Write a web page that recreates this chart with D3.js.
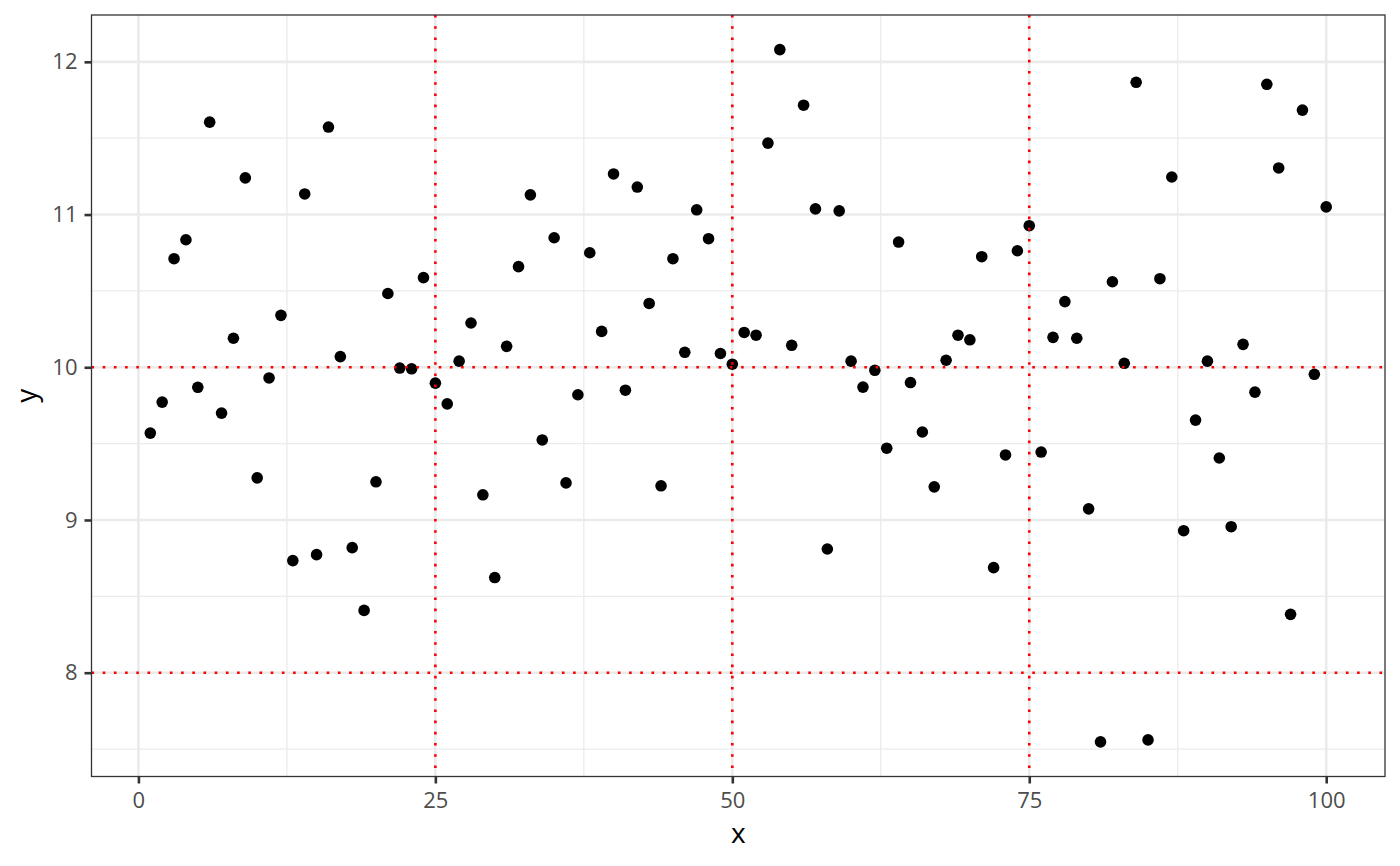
<!DOCTYPE html>
<html><head><meta charset="utf-8">
<script src="https://cdn.jsdelivr.net/npm/d3@7"></script>
<style>body{margin:0;background:#fff;}svg{display:block;font-family:"Open Sans","Noto Sans",sans-serif;}</style>
</head><body><svg id="c" width="1400" height="866"></svg>
<script>
const xs = d3.range(1, 101);
const ys = [9.569,9.772,10.711,10.835,9.869,11.605,9.70,10.19,11.24,9.276,
9.93,10.34,8.734,11.135,8.773,11.573,10.07,8.819,8.408,9.25,
10.483,9.995,9.99,10.587,9.896,9.76,10.04,10.29,9.165,8.623,
10.137,10.659,11.129,9.524,10.848,9.243,9.82,10.75,10.235,11.266,
9.85,11.18,10.418,9.224,10.711,10.098,11.031,10.842,10.09,10.02,
10.228,10.21,11.468,12.08,10.144,11.716,11.037,8.81,11.024,10.04,
9.87,9.98,9.47,10.82,9.90,9.576,9.217,10.046,10.21,10.18,
10.724,8.688,9.426,10.763,10.927,9.445,10.196,10.43,10.19,9.073,
7.547,10.56,10.026,11.866,7.56,10.58,11.246,8.93,9.654,10.04,
9.406,8.956,10.15,9.837,11.853,11.305,8.382,11.684,9.954,11.05];
const xTicks = [0,25,50,75,100];
const yTicks = [8,9,10,11,12];
const xMinor = [12.5,37.5,62.5,87.5];
const yMinor = [7.5,8.5,9.5,10.5,11.5];
const vLines = [25,50,75];
const hLines = [8,10];

const L=91.5,R=1385,T=15,B=776.5;
const FONT='"Open Sans","Noto Sans",sans-serif';
const svg=d3.select("#c");
const x=d3.scaleLinear().domain([1-4.95,100+4.95]).range([L,R]);
const yr=d3.extent(ys), ye=(yr[1]-yr[0])*0.05;
const y=d3.scaleLinear().domain([yr[0]-ye,yr[1]+ye]).range([B,T]);
const g=svg.append("g");
g.selectAll(".mx").data(xMinor).join("line").attr("x1",d=>x(d)).attr("x2",d=>x(d)).attr("y1",T).attr("y2",B).attr("stroke","#EBEBEB").attr("stroke-width",1.3);
g.selectAll(".my").data(yMinor).join("line").attr("y1",d=>y(d)).attr("y2",d=>y(d)).attr("x1",L).attr("x2",R).attr("stroke","#EBEBEB").attr("stroke-width",1.3);
g.selectAll(".Mx").data(xTicks).join("line").attr("x1",d=>x(d)).attr("x2",d=>x(d)).attr("y1",T).attr("y2",B).attr("stroke","#EBEBEB").attr("stroke-width",2.6);
g.selectAll(".My").data(yTicks).join("line").attr("y1",d=>y(d)).attr("y2",d=>y(d)).attr("x1",L).attr("x2",R).attr("stroke","#EBEBEB").attr("stroke-width",2.6);
g.selectAll("circle").data(xs).join("circle").attr("cx",d=>x(d)).attr("cy",(d,i)=>y(ys[i])).attr("r",5.8).attr("fill","#000");
g.selectAll(".vl").data(vLines).join("line").attr("x1",d=>x(d)).attr("x2",d=>x(d)).attr("y1",T).attr("y2",B).attr("stroke","red").attr("stroke-width",2.6).attr("stroke-dasharray","2.6,8.6");
g.selectAll(".hl").data(hLines).join("line").attr("y1",d=>y(d)).attr("y2",d=>y(d)).attr("x1",L).attr("x2",R).attr("stroke","red").attr("stroke-width",2.6).attr("stroke-dasharray","2.6,8.6");
svg.append("rect").attr("x",L).attr("y",T).attr("width",R-L).attr("height",B-T).attr("fill","none").attr("stroke","#333333").attr("stroke-width",1.3);
const xa=svg.append("g").attr("transform",`translate(0,${B})`).call(d3.axisBottom(x).tickValues(xTicks).tickFormat(d3.format("d")).tickSize(7).tickPadding(8.5));
const ya=svg.append("g").attr("transform",`translate(${L},0)`).call(d3.axisLeft(y).tickValues(yTicks).tickFormat(d3.format("d")).tickSize(7).tickPadding(7));
[xa,ya].forEach(a=>{a.attr("font-family",FONT).attr("font-size",22);a.select(".domain").remove();a.selectAll(".tick line").attr("stroke","#333333").attr("stroke-width",2.6);a.selectAll("text").attr("fill","#4D4D4D");});
svg.append("text").attr("x",(L+R)/2).attr("y",843).attr("text-anchor","middle").attr("font-family",FONT).attr("font-size",28).attr("fill","#000").text("x");
svg.append("text").attr("transform",`translate(36,${(T+B)/2}) rotate(-90)`).attr("text-anchor","middle").attr("font-family",FONT).attr("font-size",28).attr("fill","#000").text("y");
</script></body></html>
